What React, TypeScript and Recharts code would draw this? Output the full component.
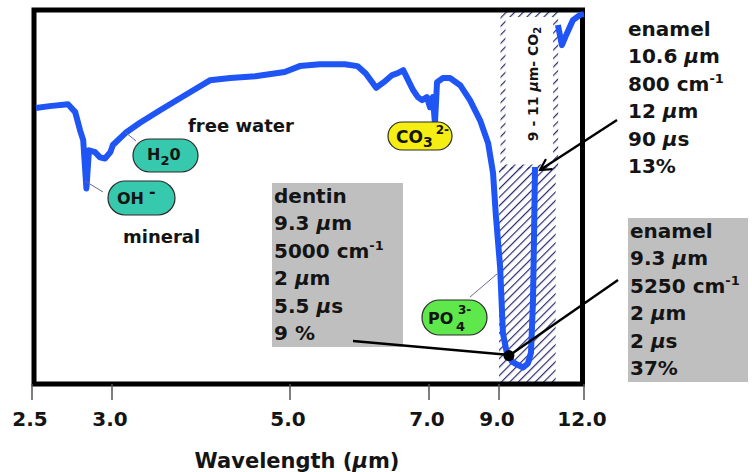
import React from "react";
import { LineChart, Line, XAxis, YAxis, ReferenceArea, ReferenceDot } from "recharts";

// x axis: wavelength in µm, with a scale break like an FTIR plot
const TICK_WL = [2.5, 3.0, 5.0, 7.0, 9.0, 12.0];
const TICK_LABELS = ["2.5", "3.0", "5.0", "7.0", "9.0", "12.0"];
const TICK_POS = [0, 80, 258, 397, 467, 552];

// IR spectrum of tooth tissue (transmittance, arbitrary %)
const WAVELENGTH = [
  2.525, 2.61, 2.725, 2.77, 2.8, 2.82, 2.84, 2.856, 2.894, 2.925, 2.956, 2.99, 3.01, 3.15, 3.31, 3.54, 3.82,
  4.1, 4.33, 4.61, 4.94, 5.14, 5.43, 5.79, 5.97, 6.09, 6.24, 6.35, 6.47, 6.55, 6.63, 6.68, 6.77, 6.84, 6.9,
  6.97, 7.03, 7.11, 7.17, 7.23, 7.4, 7.6, 7.89, 8.17, 8.46, 8.69, 8.83, 8.91, 9.04, 9.14, 9.28, 9.46, 9.64,
  9.85, 10.02, 10.13, 10.2, 10.24, 10.27, 10.6, 11.08, 11.22, 11.4, 11.61, 11.86, 12.0,
];
const TRANSMITTANCE = [
  73.8, 74.3, 74.8, 72.7, 67.9, 65.2, 52.3, 62.5, 62.0, 60.6, 60.3, 62.0, 63.9, 67.1, 69.8, 73.2, 77.2,
  81.2, 81.8, 82.3, 83.4, 85.0, 85.5, 85.5, 85.0, 83.0, 79.2, 80.7, 82.6, 83.1, 83.9, 82.0, 78.6, 76.7, 75.9,
  76.7, 74.0, 76.7, 69.7, 80.7, 81.8, 81.8, 79.9, 75.9, 70.5, 64.4, 56.4, 45.1, 31.2, 13.5, 8.2, 6.0, 5.2,
  4.4, 5.5, 8.4, 22.4, 41.1, 58.0, null, 96.0, 90.6, 93.8, 97.3, 98.7, 98.9,
];

// CO2 laser band (9 - 11 µm) and the marked 9.3 µm point
const CO2_BAND = [9, 11];
const BAND_SPLIT = 58;
const MARK_WL = 9.35;
const MARK_T = 7.6;

const DENTIN = ["dentin", "9.3 µm", "5000 cm^-1", "2 µm", "5.5 µs", "9 %"];
const ENAMEL_CO2 = ["enamel", "10.6 µm", "800 cm^-1", "12 µm", "90 µs", "13%"];
const ENAMEL_ER = ["enamel", "9.3 µm", "5250 cm^-1", "2 µm", "2 µs", "37%"];

function pos(wl: number) {
  for (let i = 1; i < TICK_WL.length; i++) {
    if (wl <= TICK_WL[i]) {
      const f = (wl - TICK_WL[i - 1]) / (TICK_WL[i] - TICK_WL[i - 1]);
      return TICK_POS[i - 1] + f * (TICK_POS[i] - TICK_POS[i - 1]);
    }
  }
  return TICK_POS[TICK_POS.length - 1];
}

const data = WAVELENGTH.map((w, i) => ({ u: pos(w), t: TRANSMITTANCE[i] }));

const FONT = "'DejaVu Sans', Verdana, sans-serif";
const INK = "#141414";

function rich(s: string) {
  const [main, sup] = s.split("^");
  const parts = main.split("µ");
  return (
    <>
      {parts.map((p, i) => (
        <React.Fragment key={i}>
          {i > 0 && <tspan fontStyle="italic">µ</tspan>}
          {p}
        </React.Fragment>
      ))}
      {sup && <tspan dy={-8} fontSize={13}>{sup}</tspan>}
    </>
  );
}

function TextBlock({ lines, x, y }: { lines: string[]; x: number; y: number }) {
  return (
    <g fontFamily={FONT} fontWeight="bold" fontSize={20} fill={INK}>
      {lines.map((l, i) => (
        <text key={i} x={x} y={y + i * 27.4}>
          {rich(l)}
        </text>
      ))}
    </g>
  );
}

const AxisTick = (props: any) => {
  const { x, y, payload } = props;
  let idx = 0;
  TICK_POS.forEach((p, i) => {
    if (Math.abs(p - payload.value) < Math.abs(TICK_POS[idx] - payload.value)) idx = i;
  });
  return (
    <text x={x - 2} y={y + 24} textAnchor="middle" fontFamily={FONT} fontWeight="bold" fontSize={20} fill={INK}>
      {TICK_LABELS[idx]}
    </text>
  );
};

function Pill({ x, y, w, h, fill }: { x: number; y: number; w: number; h: number; fill: string }) {
  return <rect x={x} y={y} width={w} height={h} rx={h / 2} ry={h / 2} fill={fill} stroke="#2a2a2a" strokeWidth={1.2} />;
}

export default function App() {
  return (
    <div style={{ position: "absolute", left: 0, top: 0, width: 752, height: 472, background: "#fff" }}>
      <svg width={0} height={0} style={{ position: "absolute" }}>
        <defs>
          <pattern id="hatch" patternUnits="userSpaceOnUse" width={6} height={6} patternTransform="rotate(45)">
            <line x1={0} y1={0} x2={0} y2={6} stroke="#29296e" strokeWidth={2.4} />
          </pattern>
        </defs>
      </svg>
      <LineChart width={752} height={472} data={data} margin={{ top: 10, right: 168, left: 32, bottom: 43 }}>
        <XAxis
          dataKey="u"
          type="number"
          domain={[0, 552]}
          ticks={TICK_WL.map(pos)}
          axisLine={false}
          tickLine={{ stroke: "#555", strokeWidth: 1.5 }}
          tickSize={16}
          height={45}
          tick={<AxisTick />}
          interval={0}
        />
        <YAxis hide domain={[0, 100]} type="number" />
        <ReferenceArea
          x1={pos(CO2_BAND[0])}
          x2={pos(CO2_BAND[1])}
          y1={0}
          y2={BAND_SPLIT}
          fill="url(#hatch)"
          fillOpacity={1}
          stroke="none"
        />
        <ReferenceArea
          x1={pos(CO2_BAND[0]) + 4}
          x2={pos(CO2_BAND[1])}
          y1={BAND_SPLIT}
          y2={98.8}
          fill="none"
          stroke="url(#hatch)"
          strokeWidth={5}
        />
        <Line
          dataKey="t"
          type="linear"
          stroke="#1e55f4"
          strokeWidth={6}
          strokeLinejoin="round"
          dot={false}
          connectNulls={false}
          isAnimationActive={false}
        />
        <ReferenceArea x1={2} x2={550.5} y1={0} y2={100} fill="none" stroke="#000" strokeWidth={5} />
        <ReferenceDot x={pos(MARK_WL)} y={MARK_T} r={5.5} fill="#000" stroke="none" />
      </LineChart>

      <svg width={752} height={472} style={{ position: "absolute", left: 0, top: 0, pointerEvents: "none" }}>
        <defs>
          <marker id="arr" markerWidth={14} markerHeight={14} refX={12} refY={7} orient="auto" markerUnits="userSpaceOnUse">
            <path d="M1,1 L12,7 L1,13" fill="none" stroke="#000" strokeWidth={2.2} />
          </marker>
        </defs>

        {/* CO2 band label */}
        <text
          x={533}
          y={84}
          transform="rotate(-90 533 84)"
          textAnchor="middle"
          dominantBaseline="central"
          fontFamily={FONT}
          fontWeight="bold"
          fontSize={14}
          fill={INK}
        >
          9 - 11 <tspan fontStyle="italic">µ</tspan>m- CO<tspan dy={4} fontSize={10}>2</tspan>
        </text>

        {/* leader lines */}
        <line x1={125} y1={132} x2={136} y2={141} stroke="#6a6a9a" strokeWidth={1} />
        <line x1={85} y1={181} x2={103} y2={192} stroke="#6a6a9a" strokeWidth={1} />
        <line x1={470} y1={297} x2={497} y2={274} stroke="#6a6a9a" strokeWidth={1} />

        {/* species pills */}
        <Pill x={133} y={139} w={65} h={33} fill="#36c9ad" />
        <text x={147} y={160} fontFamily={FONT} fontWeight="bold" fontSize={16} fill={INK}>
          H<tspan dy={5} fontSize={13}>2</tspan>
          <tspan dy={-5}>0</tspan>
        </text>
        <Pill x={108} y={181} w={67} h={34} fill="#36c9ad" />
        <text x={117} y={204} fontFamily={FONT} fontWeight="bold" fontSize={16} fill={INK}>
          OH<tspan dx={5} dy={-7}>-</tspan>
        </text>
        <Pill x={388} y={122} w={64} h={28} fill="#f4ee12" />
        <text x={396} y={143} fontFamily={FONT} fontWeight="bold" fontSize={17} fill={INK}>
          CO<tspan dy={4} fontSize={14}>3</tspan>
          <tspan dx={3} dy={-13} fontSize={12}>2-</tspan>
        </text>
        <Pill x={422} y={300} w={65} h={35} fill="#5fe84b" />
        <text x={428} y={324} fontFamily={FONT} fontWeight="bold" fontSize={16} fill={INK}>PO</text>
        <text x={456} y={331} fontFamily={FONT} fontWeight="bold" fontSize={13} fill={INK}>4</text>
        <text x={458} y={314} fontFamily={FONT} fontWeight="bold" fontSize={12} fill={INK}>3-</text>

        <text x={188} y={132} fontFamily={FONT} fontWeight="bold" fontSize={18} fill={INK}>free water</text>
        <text x={123} y={243} fontFamily={FONT} fontWeight="bold" fontSize={18} fill={INK}>mineral</text>

        {/* laser parameter boxes */}
        <rect x={272} y={183} width={131} height={164} fill="#bfbfbf" />
        <TextBlock lines={DENTIN} x={274} y={203} />
        <TextBlock lines={ENAMEL_CO2} x={628} y={36} />
        <rect x={628} y={218} width={120} height={164} fill="#bfbfbf" />
        <TextBlock lines={ENAMEL_ER} x={630} y={238} />

        {/* pointers */}
        <line x1={617} y1={120} x2={540} y2={170} stroke="#000" strokeWidth={2.4} markerEnd="url(#arr)" />
        <line x1={353} y1={341} x2={510} y2={355} stroke="#000" strokeWidth={2.4} />
        <line x1={618} y1={280} x2={510} y2={355} stroke="#000" strokeWidth={2.4} />

        <text x={297} y={468} textAnchor="middle" fontFamily={FONT} fontWeight="bold" fontSize={21} fill={INK}>
          Wavelength (<tspan fontStyle="italic">µ</tspan>m)
        </text>
      </svg>
    </div>
  );
}
